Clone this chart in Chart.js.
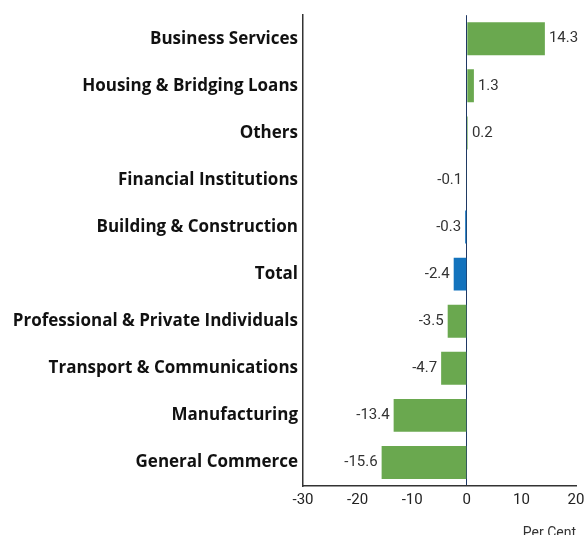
<!DOCTYPE html>
<html><head><meta charset="utf-8">
<script src="https://cdn.jsdelivr.net/npm/chart.js@4"></script>
<style>html,body{margin:0;padding:0;background:#fff}#w{width:586px;height:535px}</style>
</head><body><div id="w"><canvas id="c"></canvas></div>
<script>
const categories = ["Business Services","Housing & Bridging Loans","Others","Financial Institutions","Building & Construction","Total","Professional & Private Individuals","Transport & Communications","Manufacturing","General Commerce"];
const values = [14.3,1.3,0.2,-0.1,-0.3,-2.4,-3.5,-4.7,-13.4,-15.6];
const barColors = ["#6aa84f","#6aa84f","#6aa84f","#6aa84f","#1373bd","#1373bd","#6aa84f","#6aa84f","#6aa84f","#6aa84f"];
const xTicks = [-30,-20,-10,0,10,20];

const labelPlugin = {
  id:'vals',
  afterDatasetsDraw(chart){
    const ctx = chart.ctx;
    const meta = chart.getDatasetMeta(0);
    ctx.save();
    ctx.font = '15px Roboto';
    ctx.fillStyle = '#333';
    ctx.textBaseline = 'middle';
    meta.data.forEach((el,i)=>{
      const v = values[i];
      if (v >= 0){ ctx.textAlign='left'; ctx.fillText(v.toFixed(1), el.x+4, el.y); }
      else { ctx.textAlign='right'; ctx.fillText(v.toFixed(1), el.x-4, el.y); }
    });
    ctx.restore();
  }
};

new Chart(document.getElementById('c'),{
  type:'bar',
  data:{labels:categories,datasets:[{data:values,backgroundColor:barColors,barPercentage:0.7,categoryPercentage:1,minBarLength:0}]},
  options:{
    indexAxis:'y',responsive:true,maintainAspectRatio:false,animation:false,
    layout:{padding:{top:15,right:0,left:0,bottom:0}},
    plugins:{legend:{display:false},tooltip:{enabled:false}},
    scales:{
      x:{min:-30,max:20,
        afterBuildTicks(s){ s.ticks = xTicks.map(v=>({value:v})); },
        afterFit(s){ s.height = 49; s.paddingRight = 10; s.paddingLeft = 0; },
        grid:{drawTicks:false,color:(c)=>c.tick && c.tick.value===0 ? '#1f3864' : 'rgba(0,0,0,0)',lineWidth:1},
        border:{display:true,color:'#333',width:1.5},
        ticks:{padding:5,color:'#222',font:{family:'Roboto',size:15}},
        title:{display:true,text:'Per Cent',align:'end',color:'#333',font:{family:'Roboto',size:14},padding:{top:0,bottom:-7}}
      },
      y:{
        afterFit(s){ s.width = 303; },
        grid:{display:false,drawTicks:false},
        border:{display:true,color:'#333',width:1.5},
        ticks:{padding:5,color:'#111',font:{family:'Open Sans',size:17,weight:'bold'}}
      }
    }
  },
  plugins:[labelPlugin]
});
</script></body></html>
